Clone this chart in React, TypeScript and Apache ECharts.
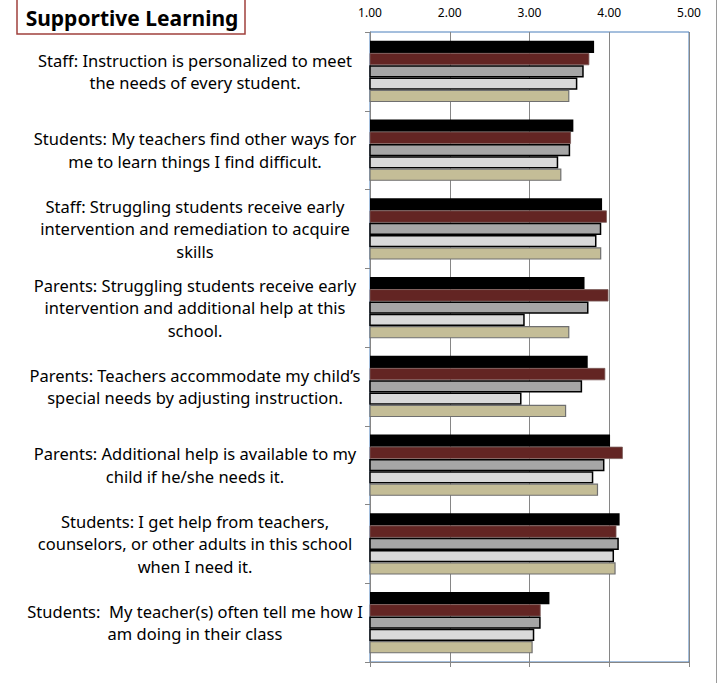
import React, { useEffect, useRef } from "react";
import * as echarts from "echarts";

const categories = [
  "Staff: Instruction is personalized to meet\nthe needs of every student.",
  "Students: My teachers find other ways for\nme to learn things I find difficult.",
  "Staff: Struggling students receive early\nintervention and remediation to acquire\nskills",
  "Parents: Struggling students receive early\nintervention and additional help at this\nschool.",
  "Parents: Teachers accommodate my child\u2019s\nspecial needs by adjusting instruction.",
  "Parents: Additional help is available to my\nchild if he/she needs it.",
  "Students: I get help from teachers,\ncounselors, or other adults in this school\nwhen I need it.",
  "Students:  My teacher(s) often tell me how I\nam doing in their class",
];

const seriesNames = ["Series 1", "Series 2", "Series 3", "Series 4", "Series 5"];

const series1 = [3.81, 3.55, 3.91, 3.69, 3.73, 4.01, 4.13, 3.25];
const series2 = [3.75, 3.52, 3.97, 3.99, 3.95, 4.17, 4.09, 3.14];
const series3 = [3.68, 3.51, 3.9, 3.74, 3.66, 3.94, 4.12, 3.14];
const series4 = [3.6, 3.36, 3.84, 2.94, 2.9, 3.8, 4.06, 3.06];
const series5 = [3.5, 3.4, 3.9, 3.5, 3.46, 3.86, 4.08, 3.04];

const axisTicks = [1, 5, 1]; // min, max, interval

const FONT = "'Noto Sans', sans-serif";

export default function App() {
  const ref = useRef<HTMLDivElement>(null);
  useEffect(() => {
    if (!ref.current) return;
    const chart = echarts.init(ref.current, null, { renderer: "svg" });
    const styles = [
      { color: "#000000", borderColor: "#000000", borderWidth: 0 },
      { color: "#632523", borderColor: "#7a5a58", borderWidth: 0.8 },
      { color: "#A6A6A6", borderColor: "#000000", borderWidth: 1.5 },
      { color: "#D9D9D9", borderColor: "#000000", borderWidth: 1.5 },
      { color: "#C4BD97", borderColor: "#6f6f6f", borderWidth: 1.2 },
    ];
    const data = [series1, series2, series3, series4, series5];
    chart.setOption({
      animation: false,
      grid: {
        left: 370,
        right: 32,
        top: 32,
        bottom: 21,
        show: true,
        borderColor: "#4A7EBB",
        borderWidth: 1,
      },
      xAxis: [
        {
          type: "value",
          position: "top",
          min: axisTicks[0],
          max: axisTicks[1],
          interval: axisTicks[2],
          axisLine: { show: false },
          axisTick: { show: false },
          splitLine: { show: false },
          axisLabel: {
            formatter: (v: number) => v.toFixed(2),
            fontFamily: FONT,
            fontSize: 12,
            color: "#000",
            margin: 14,
          },
        },
        {
          type: "value",
          position: "bottom",
          min: axisTicks[0],
          max: axisTicks[1],
          interval: axisTicks[2],
          axisLine: { show: true, lineStyle: { color: "#868686", width: 1 } },
          axisTick: { show: true, inside: false, length: 5, lineStyle: { color: "#868686" } },
          splitLine: { show: true, lineStyle: { color: "#868686", width: 1 } },
          axisLabel: { show: false },
        },
      ],
      yAxis: {
        type: "category",
        inverse: true,
        data: categories,
        axisLine: { show: true, lineStyle: { color: "#868686", width: 1 } },
        axisTick: { show: true, length: 5, lineStyle: { color: "#868686" } },
        axisLabel: {
          fontFamily: FONT,
          fontSize: 16.5,
          lineHeight: 22.5,
          color: "#000",
          align: "center",
          margin: 175,
        },
      },
      series: data.map((d, i) => ({
        name: seriesNames[i],
        type: "bar",
        xAxisIndex: 1,
        data: d,
        barGap: "0%",
        barCategoryGap: "22%",
        itemStyle: styles[i],
      })),
      graphic: [
        {
          type: "rect",
          shape: { x: 17, y: -1, width: 228, height: 35 },
          style: { fill: "#fff", stroke: "#A0403C", lineWidth: 1.5 },
        },
        {
          type: "text",
          x: 132,
          y: 18,
          style: {
            text: "Supportive Learning",
            fontFamily: FONT,
            fontWeight: "bold",
            fontSize: 21,
            fill: "#000",
            align: "center",
            verticalAlign: "middle",
          },
        },
        {
          type: "line",
          shape: { x1: 716.5, y1: 0, x2: 716.5, y2: 683 },
          style: { stroke: "#9a9a9a", lineWidth: 1 },
        },
      ],
    });
    return () => chart.dispose();
  }, []);
  return (
    <div
      ref={ref}
      style={{ position: "fixed", left: 0, top: 0, width: 721, height: 683, background: "#fff" }}
    />
  );
}
